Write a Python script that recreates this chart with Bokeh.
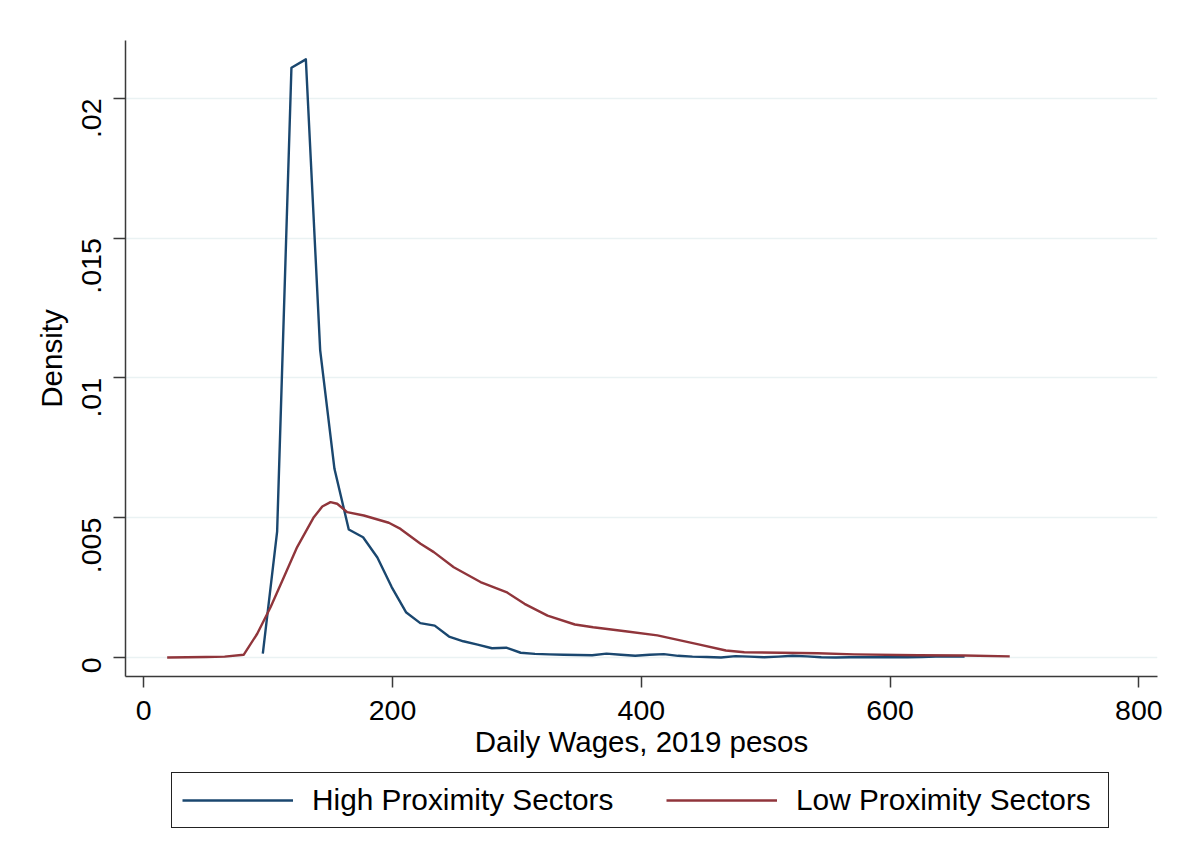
import math
from bokeh.plotting import figure
from bokeh.layouts import column
from bokeh.models import Range1d, FixedTicker, CustomJSTickFormatter, Legend, LegendItem
from bokeh.embed import file_html
from bokeh.resources import INLINE

# High proximity sectors (kernel density)
high_x = [95.7, 107.2, 118.7, 130.3, 141.8, 153.3, 164.8, 176.3, 187.8, 199.3,
          210.8, 222.3, 233.9, 245.4, 256.9, 268.4, 279.9, 291.4, 303.0, 314.5,
          326.0, 337.5, 349.0, 360.5, 372.0, 383.6, 395.1, 406.6, 418.1, 429.6,
          441.1, 452.6, 464.1, 475.7, 487.2, 498.7, 510.2, 521.7, 533.2, 544.7,
          556.2, 567.8, 579.3, 590.8, 602.3, 613.8, 625.3, 636.8, 648.3, 659.9]
high_y = [0.00014, 0.0045, 0.0211, 0.0214, 0.0110, 0.00675, 0.00458, 0.0043, 0.00358, 0.00252,
          0.00162, 0.00123, 0.00114, 0.00075, 0.00058, 0.00046, 0.00033, 0.00035, 0.00017, 0.00013,
          0.00011, 0.00010, 0.00009, 0.00008, 0.00014, 0.00010, 0.00006, 0.00010, 0.00012, 0.00006,
          0.00003, 0.00002, 0.00000, 0.00005, 0.00003, 0.00001, 0.00003, 0.00006, 0.00004, 0.00001,
          0.00000, 0.00001, 0.00001, 0.00001, 0.00001, 0.00001, 0.00002, 0.00003, 0.00003, 0.00003]

# Low proximity sectors (kernel density)
low_x = [18.8, 35.0, 50.0, 65.0, 80.4, 91.2, 101.9, 112.6, 123.3, 136.7,
         143.5, 150.1, 155.5, 163.5, 176.9, 197.0, 206.4, 222.5, 233.2, 249.2, 270.7,
         291.5, 306.1, 324.6, 346.6, 361.3, 387.1, 412.9, 431.3, 446.0, 468.0,
         482.8, 512.2, 541.7, 571.1, 622.6, 659.4, 696.2]
low_y = [0.00000, 0.00001, 0.00002, 0.00003, 0.00010, 0.00085, 0.00180, 0.00287, 0.00395, 0.00502,
         0.00540, 0.00556, 0.00550, 0.00520, 0.00508, 0.00482, 0.00460, 0.00407, 0.00377, 0.00323, 0.00270,
         0.00234, 0.00192, 0.00150, 0.00118, 0.00108, 0.00094, 0.00079, 0.00061, 0.00047, 0.00025,
         0.00019, 0.00017, 0.00015, 0.00011, 0.00008, 0.00007, 0.00004]

x_ticks = [0, 200, 400, 600, 800]
y_ticks = [0, 0.005, 0.01, 0.015, 0.02]
series_names = ["High Proximity Sectors", "Low Proximity Sectors"]
colors = ["#1a476f", "#90353b"]

FONT = "Liberation Sans"

p = figure(width=1168, height=770, output_backend="svg", toolbar_location=None,
           x_range=Range1d(-14.7, 815.0), y_range=Range1d(-0.00068, 0.022075),
           min_border_left=125, min_border_right=11, min_border_top=40, min_border_bottom=94)
p.outline_line_color = None
p.background_fill_color = "white"
p.border_fill_color = "white"

p.line(high_x, high_y, line_color=colors[0], line_width=2.4, line_join="round")
p.line(low_x, low_y, line_color=colors[1], line_width=2.4, line_join="round")

p.xgrid.visible = False
p.ygrid.grid_line_color = "#eaf2f3"
p.ygrid.grid_line_width = 1.5

p.xaxis.ticker = FixedTicker(ticks=x_ticks)
p.yaxis.ticker = FixedTicker(ticks=y_ticks)
p.yaxis.formatter = CustomJSTickFormatter(code="""
if (tick == 0) return '0';
var s = (+tick.toFixed(4)).toString();
return s.replace(/^0\\./, '.');
""")

for ax in (p.xaxis[0], p.yaxis[0]):
    ax.axis_line_color = "#3a3a3a"
    ax.axis_line_width = 1.5
    ax.major_tick_line_color = "#3a3a3a"
    ax.major_tick_line_width = 1.5
    ax.major_tick_in = 0
    ax.minor_tick_line_color = None
    ax.major_label_text_font = FONT
    ax.major_label_text_font_size = "28.5px"
    ax.major_label_text_color = "black"
    ax.axis_label_text_font = FONT
    ax.axis_label_text_font_size = "29.5px"
    ax.axis_label_text_font_style = "normal"
    ax.axis_label_text_color = "black"

p.xaxis.major_tick_out = 11
p.yaxis.major_tick_out = 12
p.xaxis.major_label_standoff = 13
p.yaxis.major_label_standoff = 22
p.xaxis.axis_label_standoff = 2
p.yaxis.axis_label_standoff = 2
p.yaxis.major_label_orientation = math.pi / 2
p.xaxis.axis_label = "Daily Wages, 2019 pesos"
p.yaxis.axis_label = "Density"

# Legend strip below the plot
lg = figure(width=1168, height=69, output_backend="svg", toolbar_location=None,
            x_range=Range1d(0, 1), y_range=Range1d(0, 1),
            min_border_left=0, min_border_right=0, min_border_top=0, min_border_bottom=0)
lg.axis.visible = False
lg.grid.visible = False
lg.outline_line_color = None
lg.background_fill_color = "white"
lg.border_fill_color = "white"
g1 = lg.line([-10, -9], [-10, -9], line_color=colors[0], line_width=2.4)
g2 = lg.line([-10, -9], [-10, -9], line_color=colors[1], line_width=2.4)

legend = Legend(items=[LegendItem(label=series_names[0], renderers=[g1]),
                       LegendItem(label=series_names[1], renderers=[g2])],
                orientation="horizontal", location=(46, 11))
legend.label_text_font = FONT
legend.label_text_font_size = "29.8px"
legend.label_text_color = "black"
legend.glyph_width = 111
legend.glyph_height = 30
legend.label_standoff = 19
legend.label_width = 302
legend.spacing = 52
legend.padding = 10
legend.margin = 0
legend.border_line_color = "#222222"
legend.border_line_alpha = 1.0
legend.border_line_width = 1.5
legend.background_fill_color = "white"
legend.background_fill_alpha = 1.0
lg.add_layout(legend, "center")

layout = column(p, lg)
open("out.html", "w").write(file_html(layout, INLINE))
